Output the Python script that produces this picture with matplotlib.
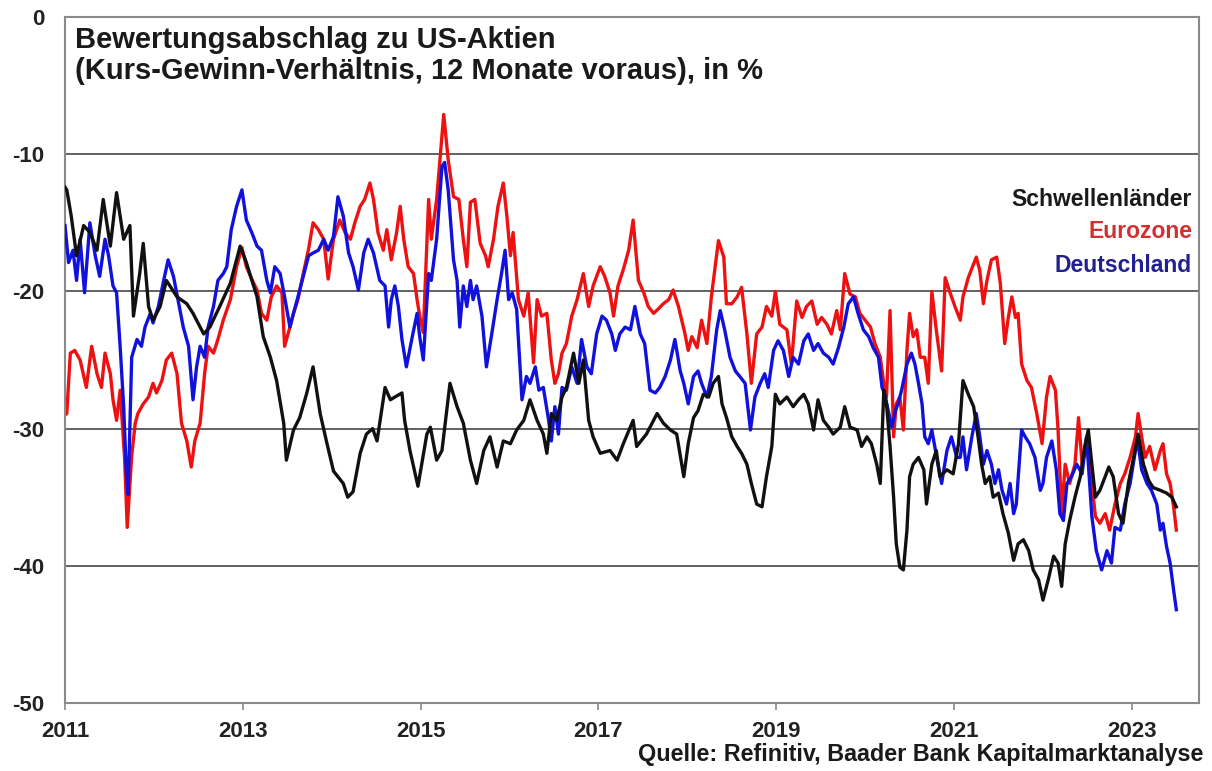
import matplotlib
matplotlib.use("Agg")
import matplotlib.pyplot as plt

plt.rcParams['font.family'] = ['Liberation Sans', 'DejaVu Sans']

# ---------------- data (years as decimal, values in %) ----------------
sw_years = [2011.00, 2011.02, 2011.07, 2011.13, 2011.21, 2011.28, 2011.36, 2011.43, 2011.51, 2011.58,
            2011.66, 2011.73, 2011.77, 2011.84, 2011.88, 2011.94, 2011.99, 2012.07, 2012.14, 2012.26,
            2012.37, 2012.44, 2012.56, 2012.63, 2012.74, 2012.86, 2012.97, 2013.04, 2013.16, 2013.23,
            2013.31, 2013.38, 2013.46, 2013.49, 2013.57, 2013.64, 2013.72, 2013.79, 2013.87, 2013.94,
            2014.02, 2014.13, 2014.18, 2014.24, 2014.32, 2014.39, 2014.46, 2014.51, 2014.60, 2014.66,
            2014.71, 2014.79, 2014.82, 2014.88, 2014.97, 2015.07, 2015.11, 2015.18, 2015.24, 2015.33,
            2015.41, 2015.48, 2015.56, 2015.63, 2015.71, 2015.78, 2015.86, 2015.93, 2016.01, 2016.08,
            2016.16, 2016.23, 2016.31, 2016.38, 2016.42, 2016.47, 2016.53, 2016.59, 2016.64, 2016.72,
            2016.78, 2016.83, 2016.89, 2016.94, 2017.02, 2017.13, 2017.21, 2017.28, 2017.39, 2017.43,
            2017.54, 2017.66, 2017.73, 2017.81, 2017.88, 2017.96, 2018.01, 2018.07, 2018.12, 2018.18,
            2018.24, 2018.29, 2018.35, 2018.39, 2018.44, 2018.50, 2018.56, 2018.61, 2018.67, 2018.72,
            2018.78, 2018.84, 2018.89, 2018.95, 2018.99, 2019.04, 2019.12, 2019.19, 2019.25, 2019.31,
            2019.36, 2019.42, 2019.47, 2019.53, 2019.59, 2019.64, 2019.72, 2019.77, 2019.83, 2019.91,
            2019.96, 2020.02, 2020.07, 2020.13, 2020.17, 2020.21, 2020.24, 2020.28, 2020.32, 2020.35,
            2020.39, 2020.43, 2020.47, 2020.50, 2020.54, 2020.60, 2020.66, 2020.69, 2020.75, 2020.80,
            2020.84, 2020.92, 2020.99, 2021.05, 2021.10, 2021.16, 2021.22, 2021.27, 2021.31, 2021.35,
            2021.40, 2021.44, 2021.50, 2021.55, 2021.61, 2021.67, 2021.72, 2021.78, 2021.84, 2021.89,
            2021.95, 2022.00, 2022.06, 2022.12, 2022.17, 2022.21, 2022.25, 2022.30, 2022.36, 2022.42,
            2022.47, 2022.51, 2022.55, 2022.59, 2022.64, 2022.70, 2022.74, 2022.79, 2022.85, 2022.90,
            2022.96, 2023.02, 2023.07, 2023.13, 2023.19, 2023.24, 2023.32, 2023.39, 2023.45, 2023.50]
sw_vals = [-12.4, -12.6, -14.5, -17.4, -15.2, -15.7, -17.0, -13.3, -16.7, -12.8,
           -16.2, -15.2, -21.8, -18.7, -16.5, -21.1, -22.1, -21.1, -19.2, -20.4,
           -20.9, -21.6, -23.1, -22.6, -21.1, -19.4, -16.7, -17.9, -20.4, -23.3,
           -24.8, -26.5, -29.6, -32.3, -30.1, -29.2, -27.4, -25.5, -28.9, -30.9,
           -33.1, -34.0, -35.0, -34.6, -31.8, -30.4, -30.0, -30.9, -27.0, -27.9,
           -27.7, -27.4, -29.4, -31.6, -34.2, -30.4, -29.9, -32.3, -31.6, -26.7,
           -28.4, -29.6, -32.3, -34.0, -31.6, -30.6, -32.8, -30.9, -31.1, -30.1,
           -29.4, -27.9, -29.4, -30.4, -31.8, -28.9, -29.4, -27.7, -27.0, -24.5,
           -26.7, -25.0, -29.4, -30.6, -31.8, -31.6, -32.3, -31.1, -29.4, -31.3,
           -30.4, -28.9, -29.6, -30.1, -30.4, -33.5, -31.1, -29.2, -28.7, -27.5,
           -27.7, -26.7, -26.2, -28.2, -29.2, -30.6, -31.3, -31.8, -32.6, -34.0,
           -35.5, -35.7, -33.5, -31.3, -27.5, -28.2, -27.7, -28.4, -27.9, -27.5,
           -28.2, -30.1, -27.9, -29.4, -29.9, -30.4, -29.9, -28.4, -29.9, -30.1,
           -31.3, -30.6, -31.1, -32.6, -34.0, -27.2, -28.2, -31.3, -35.0, -38.4,
           -40.1, -40.3, -37.4, -33.5, -32.6, -32.1, -33.0, -35.5, -32.6, -31.6,
           -33.5, -33.0, -33.3, -31.1, -26.5, -27.5, -28.4, -30.6, -32.6, -34.0,
           -33.5, -35.0, -34.7, -36.2, -37.6, -39.6, -38.4, -38.1, -38.9, -40.3,
           -41.0, -42.5, -41.0, -39.3, -39.8, -41.5, -38.4, -36.7, -35.0, -33.5,
           -31.3, -30.1, -32.6, -35.0, -34.5, -33.5, -32.8, -33.5, -36.2, -36.9,
           -34.0, -32.1, -30.4, -32.6, -33.8, -34.3, -34.5, -34.7, -35.0, -35.7]

ez_years = [2011.00, 2011.02, 2011.06, 2011.11, 2011.17, 2011.24, 2011.30, 2011.36, 2011.41, 2011.45,
            2011.51, 2011.54, 2011.58, 2011.62, 2011.67, 2011.70, 2011.75, 2011.79, 2011.82, 2011.88,
            2011.94, 2011.99, 2012.03, 2012.09, 2012.14, 2012.20, 2012.26, 2012.31, 2012.37, 2012.42,
            2012.46, 2012.52, 2012.57, 2012.61, 2012.67, 2012.72, 2012.78, 2012.86, 2012.93, 2012.99,
            2013.04, 2013.10, 2013.16, 2013.21, 2013.27, 2013.32, 2013.38, 2013.44, 2013.47, 2013.53,
            2013.57, 2013.62, 2013.68, 2013.74, 2013.79, 2013.85, 2013.91, 2013.96, 2014.02, 2014.09,
            2014.15, 2014.21, 2014.26, 2014.32, 2014.37, 2014.43, 2014.47, 2014.52, 2014.58, 2014.62,
            2014.67, 2014.73, 2014.77, 2014.81, 2014.86, 2014.92, 2014.96, 2014.99, 2015.03, 2015.09,
            2015.12, 2015.18, 2015.26, 2015.31, 2015.37, 2015.43, 2015.48, 2015.52, 2015.56, 2015.61,
            2015.67, 2015.73, 2015.76, 2015.82, 2015.87, 2015.93, 2015.97, 2016.01, 2016.04, 2016.10,
            2016.16, 2016.21, 2016.27, 2016.31, 2016.36, 2016.42, 2016.47, 2016.51, 2016.55, 2016.59,
            2016.64, 2016.70, 2016.76, 2016.83, 2016.89, 2016.94, 2017.02, 2017.07, 2017.13, 2017.17,
            2017.22, 2017.28, 2017.34, 2017.39, 2017.45, 2017.51, 2017.56, 2017.62, 2017.67, 2017.73,
            2017.79, 2017.84, 2017.90, 2017.97, 2018.01, 2018.05, 2018.11, 2018.16, 2018.22, 2018.27,
            2018.35, 2018.41, 2018.44, 2018.50, 2018.56, 2018.61, 2018.67, 2018.72, 2018.78, 2018.84,
            2018.89, 2018.95, 2018.99, 2019.04, 2019.12, 2019.17, 2019.23, 2019.29, 2019.34, 2019.40,
            2019.46, 2019.51, 2019.57, 2019.62, 2019.68, 2019.72, 2019.77, 2019.83, 2019.89, 2019.94,
            2020.00, 2020.06, 2020.11, 2020.17, 2020.21, 2020.24, 2020.28, 2020.32, 2020.35, 2020.39,
            2020.43, 2020.47, 2020.50, 2020.54, 2020.58, 2020.62, 2020.67, 2020.71, 2020.75, 2020.80,
            2020.86, 2020.90, 2020.95, 2021.01, 2021.07, 2021.10, 2021.16, 2021.22, 2021.25, 2021.29,
            2021.33, 2021.37, 2021.42, 2021.48, 2021.52, 2021.57, 2021.61, 2021.65, 2021.69, 2021.72,
            2021.76, 2021.82, 2021.87, 2021.93, 2021.99, 2022.04, 2022.08, 2022.14, 2022.17, 2022.21,
            2022.25, 2022.30, 2022.36, 2022.40, 2022.44, 2022.49, 2022.55, 2022.59, 2022.64, 2022.70,
            2022.75, 2022.81, 2022.87, 2022.92, 2022.98, 2023.04, 2023.07, 2023.11, 2023.15, 2023.20,
            2023.26, 2023.32, 2023.35, 2023.39, 2023.43, 2023.47, 2023.50]
ez_vals = [-29.0, -28.9, -24.5, -24.3, -25.0, -27.0, -24.0, -26.0, -27.0, -24.5,
           -26.0, -27.9, -29.4, -27.2, -32.1, -37.2, -32.0, -29.6, -28.9, -28.2,
           -27.7, -26.7, -27.4, -26.5, -25.0, -24.5, -26.0, -29.6, -30.9, -32.8,
           -30.9, -29.6, -26.0, -24.0, -24.5, -23.5, -22.1, -20.6, -18.2, -16.8,
           -18.2, -19.1, -19.9, -21.6, -22.1, -20.4, -19.6, -20.1, -24.0, -22.6,
           -21.6, -20.6, -18.7, -16.9, -15.0, -15.5, -16.2, -19.1, -16.2, -14.8,
           -15.7, -16.2, -15.0, -13.8, -13.3, -12.1, -13.3, -15.7, -17.0, -15.5,
           -17.7, -15.7, -13.8, -16.2, -18.2, -18.7, -20.6, -21.8, -23.0, -13.3,
           -16.2, -13.3, -7.1, -10.4, -13.1, -13.3, -16.2, -18.2, -13.5, -13.3,
           -16.5, -17.4, -18.2, -16.2, -13.8, -12.1, -14.5, -17.4, -15.7, -20.6,
           -21.8, -20.1, -25.2, -20.6, -21.8, -21.6, -25.0, -26.7, -26.0, -24.5,
           -23.8, -21.8, -20.6, -18.7, -21.1, -19.6, -18.2, -18.9, -20.1, -21.8,
           -19.6, -18.4, -17.0, -14.8, -19.2, -20.1, -21.1, -21.6, -21.3, -20.9,
           -20.6, -19.9, -21.1, -23.0, -24.3, -23.3, -24.1, -22.1, -23.8, -20.4,
           -16.3, -17.5, -20.9, -20.9, -20.4, -19.7, -23.1, -26.7, -23.1, -22.6,
           -21.1, -21.8, -20.0, -22.4, -22.8, -25.3, -20.7, -21.9, -21.1, -20.7,
           -22.4, -21.9, -22.4, -23.1, -21.4, -22.8, -18.7, -20.2, -20.4, -21.6,
           -22.1, -22.6, -23.8, -24.8, -26.7, -27.7, -21.4, -30.6, -28.2, -27.7,
           -30.1, -24.3, -21.6, -23.3, -22.8, -24.8, -24.8, -26.7, -20.0, -22.8,
           -25.8, -19.0, -20.0, -21.1, -22.1, -20.4, -19.0, -18.0, -17.5, -18.5,
           -20.9, -19.2, -17.7, -17.5, -19.4, -23.8, -21.9, -20.4, -21.9, -21.6,
           -25.3, -26.5, -27.0, -28.9, -31.1, -27.7, -26.2, -27.2, -30.1, -36.2,
           -32.6, -34.0, -32.6, -29.2, -32.6, -31.1, -34.0, -36.4, -36.9, -36.2,
           -37.4, -35.5, -34.0, -33.3, -32.1, -30.6, -28.9, -30.6, -32.1, -31.3,
           -33.0, -31.6, -31.1, -33.3, -34.0, -35.7, -37.4]

de_years = [2011.00, 2011.04, 2011.09, 2011.13, 2011.17, 2011.22, 2011.28, 2011.34, 2011.39, 2011.45,
            2011.49, 2011.54, 2011.58, 2011.62, 2011.66, 2011.69, 2011.71, 2011.75, 2011.81, 2011.86,
            2011.90, 2011.96, 2011.99, 2012.05, 2012.11, 2012.16, 2012.22, 2012.27, 2012.33, 2012.39,
            2012.44, 2012.48, 2012.52, 2012.57, 2012.61, 2012.67, 2012.72, 2012.78, 2012.82, 2012.87,
            2012.93, 2012.99, 2013.04, 2013.10, 2013.16, 2013.21, 2013.27, 2013.31, 2013.36, 2013.42,
            2013.47, 2013.53, 2013.57, 2013.62, 2013.68, 2013.74, 2013.79, 2013.85, 2013.91, 2013.96,
            2014.02, 2014.07, 2014.13, 2014.19, 2014.24, 2014.30, 2014.36, 2014.41, 2014.47, 2014.54,
            2014.60, 2014.64, 2014.67, 2014.71, 2014.75, 2014.79, 2014.84, 2014.90, 2014.96, 2014.99,
            2015.03, 2015.09, 2015.12, 2015.18, 2015.24, 2015.27, 2015.31, 2015.37, 2015.41, 2015.44,
            2015.48, 2015.52, 2015.56, 2015.59, 2015.63, 2015.69, 2015.74, 2015.80, 2015.86, 2015.91,
            2015.95, 2015.99, 2016.03, 2016.08, 2016.14, 2016.19, 2016.23, 2016.29, 2016.33, 2016.38,
            2016.44, 2016.47, 2016.51, 2016.55, 2016.59, 2016.64, 2016.70, 2016.76, 2016.81, 2016.87,
            2016.92, 2016.98, 2017.04, 2017.09, 2017.15, 2017.19, 2017.24, 2017.30, 2017.36, 2017.41,
            2017.47, 2017.52, 2017.58, 2017.64, 2017.69, 2017.75, 2017.81, 2017.86, 2017.92, 2017.96,
            2018.01, 2018.07, 2018.12, 2018.16, 2018.22, 2018.27, 2018.33, 2018.37, 2018.42, 2018.48,
            2018.54, 2018.59, 2018.65, 2018.71, 2018.76, 2018.82, 2018.87, 2018.91, 2018.97, 2019.02,
            2019.08, 2019.14, 2019.19, 2019.25, 2019.31, 2019.36, 2019.42, 2019.47, 2019.53, 2019.59,
            2019.64, 2019.70, 2019.76, 2019.81, 2019.87, 2019.92, 2019.98, 2020.04, 2020.09, 2020.15,
            2020.19, 2020.22, 2020.26, 2020.30, 2020.34, 2020.37, 2020.41, 2020.47, 2020.52, 2020.56,
            2020.60, 2020.64, 2020.67, 2020.71, 2020.75, 2020.81, 2020.86, 2020.92, 2020.97, 2021.03,
            2021.07, 2021.10, 2021.14, 2021.20, 2021.25, 2021.29, 2021.33, 2021.37, 2021.42, 2021.46,
            2021.50, 2021.54, 2021.59, 2021.63, 2021.67, 2021.70, 2021.76, 2021.80, 2021.85, 2021.91,
            2021.97, 2022.00, 2022.04, 2022.10, 2022.15, 2022.19, 2022.23, 2022.27, 2022.32, 2022.38,
            2022.44, 2022.49, 2022.55, 2022.60, 2022.66, 2022.72, 2022.77, 2022.81, 2022.87, 2022.92,
            2022.98, 2023.04, 2023.07, 2023.11, 2023.17, 2023.22, 2023.28, 2023.32, 2023.35, 2023.39,
            2023.43, 2023.47, 2023.50]
de_vals = [-15.2, -17.9, -17.0, -19.2, -16.2, -20.1, -15.0, -17.4, -18.9, -16.2,
           -17.4, -19.6, -20.1, -24.0, -28.4, -33.3, -34.8, -24.8, -23.5, -24.0,
           -22.6, -21.6, -22.3, -21.1, -19.2, -17.7, -18.9, -20.6, -22.6, -24.0,
           -27.9, -25.5, -24.0, -24.8, -22.6, -21.1, -19.2, -18.7, -18.2, -15.5,
           -13.8, -12.6, -14.8, -15.7, -16.7, -17.0, -19.2, -20.1, -18.2, -18.7,
           -20.4, -22.6, -21.6, -20.4, -18.9, -17.4, -17.2, -17.0, -16.2, -17.0,
           -16.0, -13.1, -14.5, -17.2, -18.2, -19.9, -17.2, -16.2, -17.2, -19.2,
           -19.6, -22.6, -20.6, -19.6, -21.1, -23.5, -25.5, -23.5, -21.6, -23.3,
           -25.0, -18.7, -19.2, -16.2, -10.9, -10.6, -12.6, -17.7, -19.2, -22.6,
           -19.6, -21.1, -19.2, -20.6, -19.6, -21.8, -25.5, -23.1, -20.6, -18.7,
           -17.0, -20.6, -20.1, -21.3, -27.9, -26.2, -26.7, -25.5, -27.2, -27.0,
           -29.4, -30.9, -28.4, -30.4, -27.0, -27.2, -25.5, -26.7, -23.5, -25.5,
           -26.0, -23.1, -21.8, -22.1, -23.1, -24.3, -23.1, -22.6, -22.8, -21.1,
           -23.1, -23.8, -27.2, -27.4, -27.0, -26.2, -25.0, -23.5, -25.8, -26.7,
           -28.2, -26.2, -25.8, -26.7, -27.7, -26.2, -22.8, -21.4, -22.8, -24.8,
           -25.8, -26.2, -26.7, -30.1, -27.7, -26.7, -26.0, -27.0, -24.3, -23.6,
           -24.3, -26.2, -24.8, -25.3, -23.6, -23.1, -24.3, -23.8, -24.5, -24.8,
           -25.3, -24.1, -22.6, -20.9, -20.4, -21.6, -22.8, -23.3, -24.1, -24.8,
           -27.0, -27.5, -28.7, -29.9, -28.7, -28.2, -27.2, -25.3, -24.5, -25.3,
           -26.7, -28.2, -30.6, -31.1, -30.1, -32.3, -34.0, -31.6, -30.6, -32.1,
           -32.1, -30.6, -33.0, -30.6, -28.9, -30.6, -32.6, -31.6, -32.6, -34.0,
           -33.0, -34.5, -35.5, -34.0, -36.2, -35.5, -30.1, -30.6, -31.1, -32.1,
           -34.5, -34.0, -32.1, -30.9, -33.0, -36.2, -36.7, -34.0, -33.5, -32.6,
           -33.3, -30.6, -36.4, -38.9, -40.3, -38.9, -39.8, -37.2, -37.4, -35.5,
           -34.0, -31.6, -31.1, -33.0, -34.0, -34.5, -35.5, -37.4, -36.9, -38.6,
           -39.8, -41.8, -43.2]

series_labels = ["Schwellenländer", "Eurozone", "Deutschland"]
line_colors = ["#111111", "#ee1111", "#1111dd"]
label_colors = ["#1a1a1a", "#d42f2f", "#202090"]
x_ticks = [2011, 2013, 2015, 2017, 2019, 2021, 2023]
y_ticks = [0, -10, -20, -30, -40, -50]
title_text = "Bewertungsabschlag zu US-Aktien\n(Kurs-Gewinn-Verhältnis, 12 Monate voraus), in %"
source_text = "Quelle: Refinitiv, Baader Bank Kapitalmarktanalyse"

# ---------------- figure ----------------
W, H = 1212, 771
fig = plt.figure(figsize=(W / 100, H / 100), dpi=100)
ax = fig.add_axes([65 / W, 1 - 703 / H, (1199 - 65) / W, (703 - 17) / H])

ax.plot(ez_years, ez_vals, color=line_colors[1], lw=2.4, zorder=2)
ax.plot(de_years, de_vals, color=line_colors[2], lw=2.4, zorder=3)
ax.plot(sw_years, sw_vals, color=line_colors[0], lw=2.4, zorder=4)

ax.set_xlim(2011, 2023.755)
ax.set_ylim(-50, 0)

ax.set_yticks(y_ticks)
ax.set_yticklabels([str(v) for v in y_ticks], fontsize=16, fontweight='bold', color='#222222')
ax.set_xticks(x_ticks)
ax.set_xticklabels([str(v) for v in x_ticks], fontsize=16, fontweight='bold', color='#222222')
ax.tick_params(axis='y', length=0, pad=15)
ax.tick_params(axis='x', length=5, width=1.2, color='#888888', direction='out', pad=8)

for v in y_ticks[1:-1]:
    ax.axhline(v, color='#555555', lw=1.3, zorder=1)

for s in ax.spines.values():
    s.set_color('#8a8a8a')
    s.set_linewidth(1.5)

fig.text(75 / W, 1 - 26 / H, title_text, fontsize=21, fontweight='bold', color='#1a1a1a',
         ha='left', va='top', linespacing=1.15)

ys = [200, 232, 265]
for lab, col, y in zip(series_labels, label_colors, ys):
    fig.text(1192 / W, 1 - y / H, lab, fontsize=16.5, fontweight='bold', color=col,
             ha='right', va='center')

fig.text(1203 / W, 1 - 755 / H, source_text, fontsize=16.8, fontweight='bold', color='#1a1a1a',
         ha='right', va='center')

fig.savefig("out.png", dpi=100)
